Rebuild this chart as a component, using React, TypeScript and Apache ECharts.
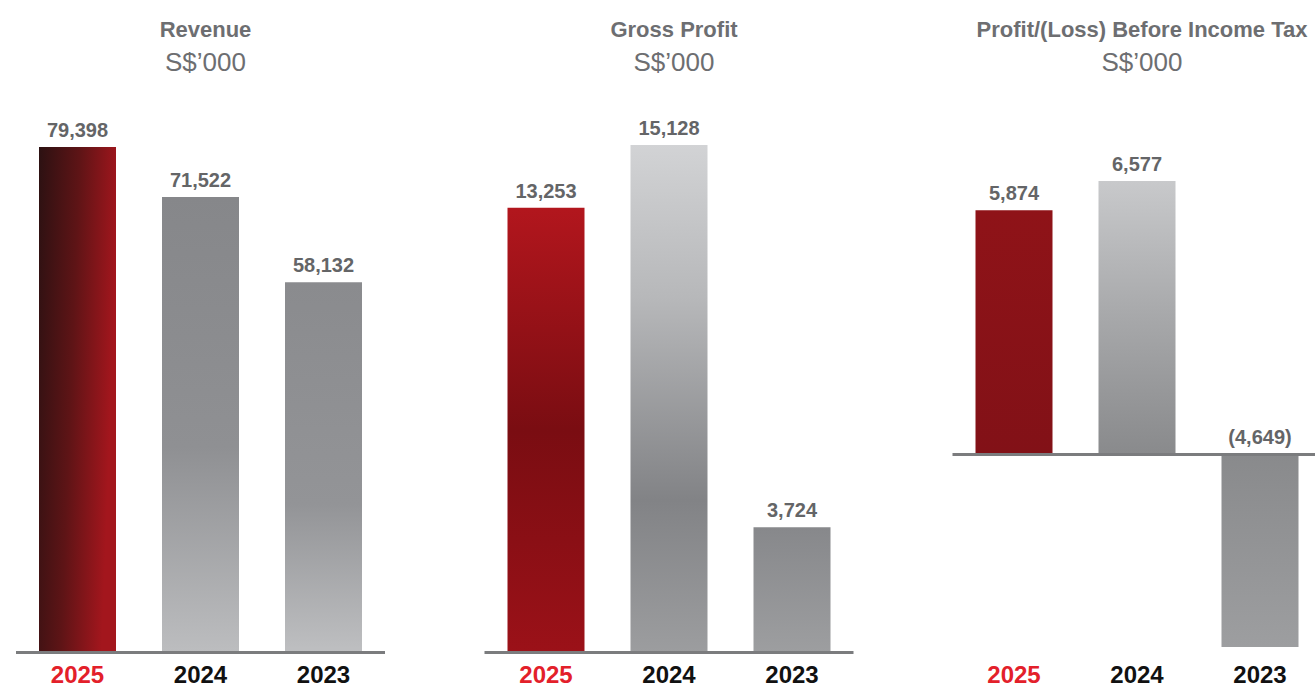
import React, { useEffect, useRef } from "react";
import * as echarts from "echarts";

const categories = ["2025", "2024", "2023"];
const revenue = [79398, 71522, 58132];
const grossProfit = [13253, 15128, 3724];
const profitBeforeTax = [5874, 6577, -4649];
const titles = ["Revenue", "Gross Profit", "Profit/(Loss) Before Income Tax"];
const unitLabel = "S$\u2019000";

const FONT = "'Liberation Sans', Arial, Helvetica, sans-serif";

const lg = (x2: number, y2: number, stops: [number, string][]) =>
  new echarts.graphic.LinearGradient(0, 0, x2, y2, stops.map(([offset, color]) => ({ offset, color })));

const fills = [
  [
    lg(1, 0.25, [[0, "#2c1112"], [0.5, "#5e1416"], [1, "#a3161d"]]),
    lg(0, 1, [[0, "#86878a"], [0.55, "#8f9093"], [1, "#bcbdbf"]]),
    lg(0, 1, [[0, "#8a8b8e"], [0.6, "#939497"], [1, "#bebfc1"]]),
  ],
  [
    lg(0, 1, [[0, "#b2161d"], [0.5, "#7a0d12"], [1, "#9b1118"]]),
    lg(0, 1, [[0, "#d2d3d5"], [0.3, "#b7b8ba"], [0.7, "#828386"], [1, "#9c9d9f"]]),
    lg(0, 1, [[0, "#87888b"], [1, "#9d9ea0"]]),
  ],
  [
    lg(0, 1, [[0, "#8f1318"], [1, "#821117"]]),
    lg(0, 1, [[0, "#c8c9cb"], [0.5, "#a7a8aa"], [1, "#898a8c"]]),
    lg(0, 1, [[0, "#898a8c"], [1, "#9d9ea0"]]),
  ],
];

const gridLefts = [16, 484.5, 952.5];
const yRanges = [
  { min: 0, max: 86787 },
  { min: 0, max: 16471 },
  { min: -4771, max: 8530 },
];
const datasets = [revenue, grossProfit, profitBeforeTax];

const fmt = (v: number) => {
  const s = Math.abs(v).toLocaleString("en-US");
  return v < 0 ? `(${s})` : s;
};

export default function App() {
  const ref = useRef<HTMLDivElement>(null);
  useEffect(() => {
    if (!ref.current) return;
    const chart = echarts.init(ref.current, null, { renderer: "svg" });
    const option: any = {
      animation: false,
      backgroundColor: "#ffffff",
      title: titles.map((t, i) => ({
        text: t,
        subtext: unitLabel,
        left: gridLefts[i] + 184.5,
        top: 13,
        textAlign: "center",
        itemGap: 9,
        textStyle: { fontFamily: FONT, fontWeight: "bold", fontSize: 22, color: "#6d6e71" },
        subtextStyle: { fontFamily: FONT, fontWeight: "normal", fontSize: 26, color: "#6d6e71" },
      })),
      grid: gridLefts.map((l) => ({
        left: l,
        width: 369,
        top: 100,
        bottom: 34,
        containLabel: false,
        outerBoundsMode: "none",
      })),
      xAxis: gridLefts.map((_, i) => ({
        type: "category",
        gridIndex: i,
        data: categories,
        axisLine: { show: false, onZero: false },
        axisTick: { show: false },
        axisLabel: {
          margin: 10,
          fontFamily: FONT,
          fontWeight: "bold",
          fontSize: 24,
          color: (v: string) => (v === "2025" ? "#e3202a" : "#111111"),
        },
      })),
      yAxis: yRanges.map((r, i) => ({
        type: "value",
        gridIndex: i,
        min: r.min,
        max: r.max,
        show: false,
        splitLine: { show: false },
      })),
      series: datasets.map((d, i) => ({
        type: "bar",
        xAxisIndex: i,
        yAxisIndex: i,
        barWidth: 77,
        data: d.map((v, j) => ({ value: v, itemStyle: { color: fills[i][j] } })),
        label: {
          show: true,
          position: "top",
          distance: 7,
          formatter: (p: any) => fmt(p.value),
          fontFamily: FONT,
          fontWeight: "bold",
          fontSize: 20,
          color: "#646567",
        },
        markLine: {
          silent: true,
          symbol: "none",
          label: { show: false },
          lineStyle: { color: "#7b7c7e", width: 3, type: "solid" },
          data: [{ yAxis: 0 }],
          z: 5,
        },
      })),
    };
    chart.setOption(option);
    return () => chart.dispose();
  }, []);
  return (
    <div
      ref={ref}
      style={{ position: "absolute", left: 0, top: 0, width: 1315, height: 686 }}
    />
  );
}
